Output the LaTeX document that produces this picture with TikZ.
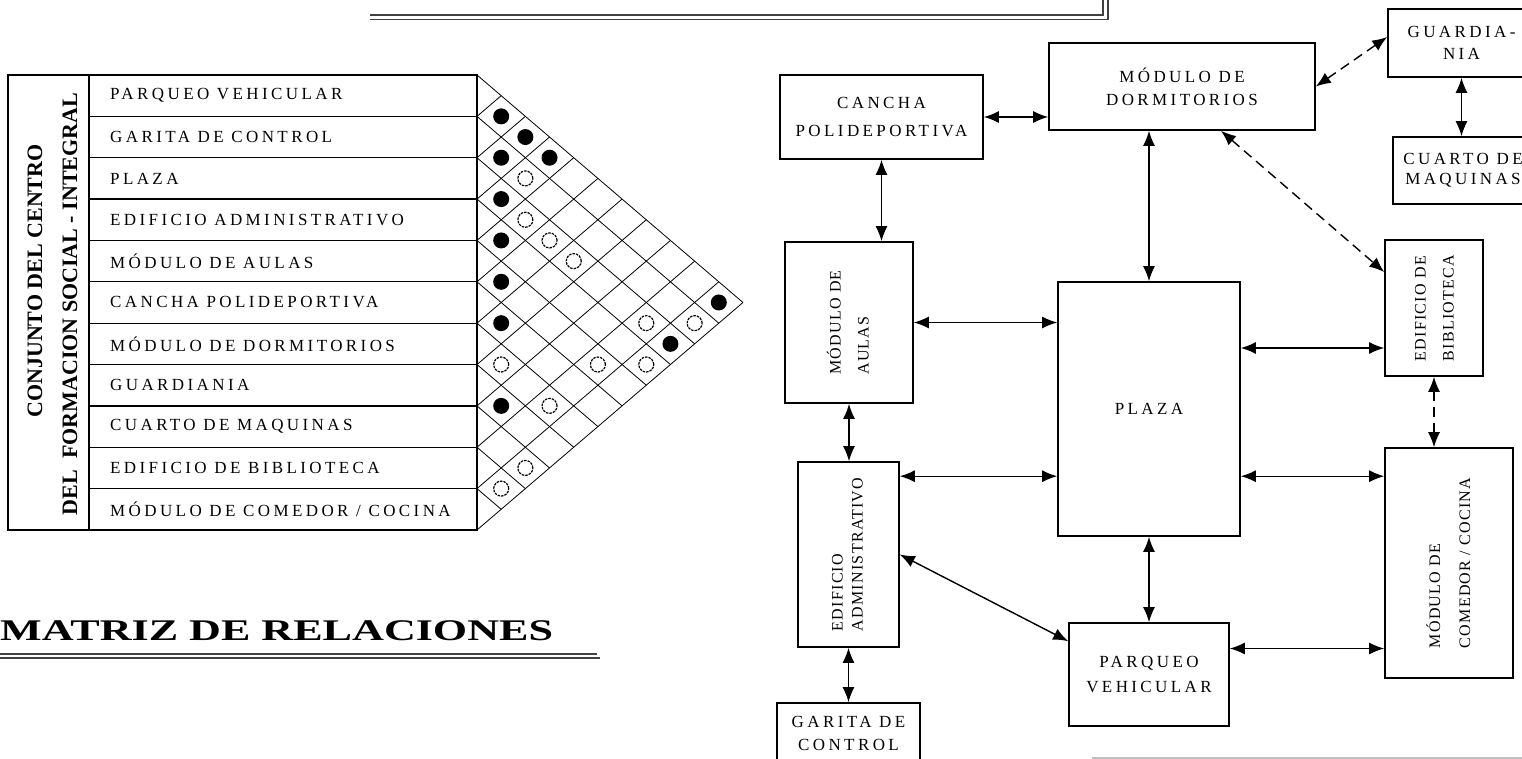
\documentclass[tikz,border=0pt]{standalone}
\usepackage{fontspec}
\usepackage{graphicx}
\setmainfont{Liberation Serif}
\newfontfamily\rotulo[LetterSpace=20]{Liberation Serif}
\newfontfamily\rotulov[LetterSpace=8]{Liberation Serif}
\usetikzlibrary{arrows.meta}
\begin{document}
\begin{tikzpicture}[x=1pt,y=-1pt,
 caja/.style={draw,line width=1.6pt,align=center,inner sep=0pt,font={\rotulo\fontsize{17}{25}\selectfont}},
 cajav/.style={caja,font={\rotulov\fontsize{16}{26}\selectfont}},
 flecha/.style={line width=1.4pt,{Latex[length=15pt,width=12pt]}-{Latex[length=15pt,width=12pt]}},
 trazos/.style={flecha,dash pattern=on 10pt off 6pt},
 fila/.style={anchor=west,inner sep=0pt,font={\rotulo\fontsize{17}{19}\selectfont}},
 vert/.style={rotate=90,inner sep=0pt,font={\bfseries\fontsize{22}{24}\selectfont}}]
 \useasboundingbox (0,0) rectangle (1522,759);
 \clip (0,0) rectangle (1522,759);
 \draw[line width=1.3pt] (8,75) rectangle (477,530);
 \draw[line width=1.3pt] (89,75) -- (89,530);
 \foreach \k in {1,...,10} \draw[line width=1.3pt] (89,{75+41.36*\k}) -- (477,{75+41.36*\k});
 \foreach \t [count=\i from 0] in {PARQUEO VEHICULAR,GARITA DE CONTROL,PLAZA,EDIFICIO ADMINISTRATIVO,MÓDULO DE AULAS,CANCHA POLIDEPORTIVA,MÓDULO DE DORMITORIOS,GUARDIANIA,CUARTO DE MAQUINAS,EDIFICIO DE BIBLIOTECA,MÓDULO DE COMEDOR / COCINA}
  \node[fila] (f\i) at (110,{75+41.36*(\i+0.5)}) {\t};
 \node[vert] (con1) at (35,281) {CONJUNTO DEL CENTRO};
 \node[vert] (con2) at (70,304) {DEL\ \ FORMACION SOCIAL - INTEGRAL};
 \foreach \k in {0,...,10} \draw[line width=0.8pt] (477,{75+41.36*\k}) -- ({477+24.18*(11-\k)},{75+41.36*(\k+(11-\k)/2)});
 \foreach \k in {1,...,11} \draw[line width=0.8pt] (477,{75+41.36*\k}) -- ({477+24.18*\k},{75+20.68*\k});
 \foreach \i/\j in {0/1,0/2,1/2,0/3,2/3,3/4,4/5,0/10,5/6,2/10,7/8}
  \fill ({477+24.18*(\j-\i)},{75+20.68*(\i+\j+1)}) circle (8pt);
 \foreach \i/\j in {1/3,2/4,2/5,2/6,2/9,1/10,6/7,4/9,3/10,6/9,8/10,9/10}
  \draw[line width=1.2pt,dash pattern=on 2.5pt off 1pt] ({477+24.18*(\j-\i)},{75+20.68*(\i+\j+1)}) circle (7.5pt);
 \node[anchor=base west,inner sep=0pt,font={\bfseries\fontsize{30}{32}\selectfont}] (titulo) at (0,640) {\scalebox{1.47}[1]{MATRIZ DE RELACIONES}};
 \draw[darkgray,line width=1.3pt] (0,654) -- (597,654) (0,658) -- (600,658);
 \draw[darkgray,line width=1.2pt] (370,15) -- (1103,15) -- (1103,0) (370,19.5) -- (1108,19.5) -- (1108,0);
 \draw[gray!50,line width=1.5pt] (1092,758) -- (1530,758);
 \node[caja,minimum width=203,minimum height=84,font={\rotulo\fontsize{17}{28}\selectfont}] (cancha) at (881.5,117) {CANCHA\\POLIDEPORTIVA};
 \node[caja,minimum width=266,minimum height=87,font={\rotulo\fontsize{17}{23}\selectfont}] (dorm) at (1182,86.5) {MÓDULO DE\\DORMITORIOS};
 \node[caja,minimum width=147,minimum height=68,font={\rotulo\fontsize{17}{22}\selectfont}] (guard) at (1461.5,43) {GUARDIA-\\NIA};
 \node[caja,minimum width=140,minimum height=67,font={\rotulo\fontsize{17}{20}\selectfont}] (cuarto) at (1463,170.5) {CUARTO DE\\MAQUINAS};
 \node[cajav,minimum width=128,minimum height=161,font={\rotulov\fontsize{16}{28}\selectfont}] (aulas) at (849,322.5) {\rotatebox{90}{\begin{tabular}{@{}l@{}}MÓDULO DE\\AULAS\end{tabular}}};
 \node[caja,minimum width=182,minimum height=254] (plaza) at (1149,409) {PLAZA};
 \node[cajav,minimum width=98,minimum height=136,font={\rotulov\fontsize{16}{28}\selectfont}] (bib) at (1434,308) {\rotatebox{90}{\begin{tabular}{@{}l@{}}EDIFICIO DE\\BIBLIOTECA\end{tabular}}};
 \node[cajav,minimum width=101,minimum height=185,font={\rotulov\fontsize{16}{20}\selectfont}] (admin) at (848.5,554.5) {\rotatebox{90}{\begin{tabular}{@{}l@{}}EDIFICIO\\ADMINISTRATIVO\end{tabular}}};
 \node[cajav,minimum width=128,minimum height=230,font={\rotulov\fontsize{16}{30}\selectfont}] (comedor) at (1449,563) {\rotatebox{90}{\begin{tabular}{@{}l@{}}MÓDULO DE\\COMEDOR / COCINA\end{tabular}}};
 \node[caja,minimum width=160,minimum height=103] (parqueo) at (1149,674.5) {PARQUEO\\VEHICULAR};
 \node[caja,minimum width=143,minimum height=61,font={\rotulo\fontsize{17}{23}\selectfont}] (garita) at (848.5,733.5) {GARITA DE\\CONTROL};
 \coordinate (pb) at ([yshift=-40pt]bib.west);
 \coordinate (pa) at ([yshift=-15pt]admin.north east);
 \coordinate (pc) at ([yshift=-29pt]comedor.north west);
 \coordinate (pp) at ([yshift=26pt]parqueo.east);
 \draw[flecha] (cancha.east) -- (cancha.east -| dorm.west);
 \draw[flecha] (cancha.south) -- (cancha.south |- aulas.north);
 \draw[flecha] (plaza.north |- dorm.south) -- (plaza.north);
 \draw[trazos] (dorm.east) -- ([yshift=6pt]guard.west);
 \draw[trazos] ([xshift=39pt]dorm.south) -- ([yshift=36pt]bib.west);
 \draw[flecha] (guard.south) -- (guard.south |- cuarto.north);
 \draw[flecha] (aulas.east) -- (aulas.east -| plaza.west);
 \draw[flecha] (pb -| plaza.east) -- (pb);
 \draw[flecha] (aulas.south) -- (aulas.south |- admin.north);
 \draw[flecha] (pa) -- (pa -| plaza.west);
 \draw[flecha] (pc -| plaza.east) -- (pc);
 \draw[trazos] (bib.south) -- (bib.south |- comedor.north);
 \draw[flecha] (admin.east) -- ([yshift=-19pt]parqueo.north west);
 \draw[flecha] (plaza.south) -- (parqueo.north);
 \draw[flecha] (pp) -- (pp -| comedor.west);
 \draw[flecha] (admin.south) -- (admin.south |- garita.north);
\end{tikzpicture}
\end{document}
